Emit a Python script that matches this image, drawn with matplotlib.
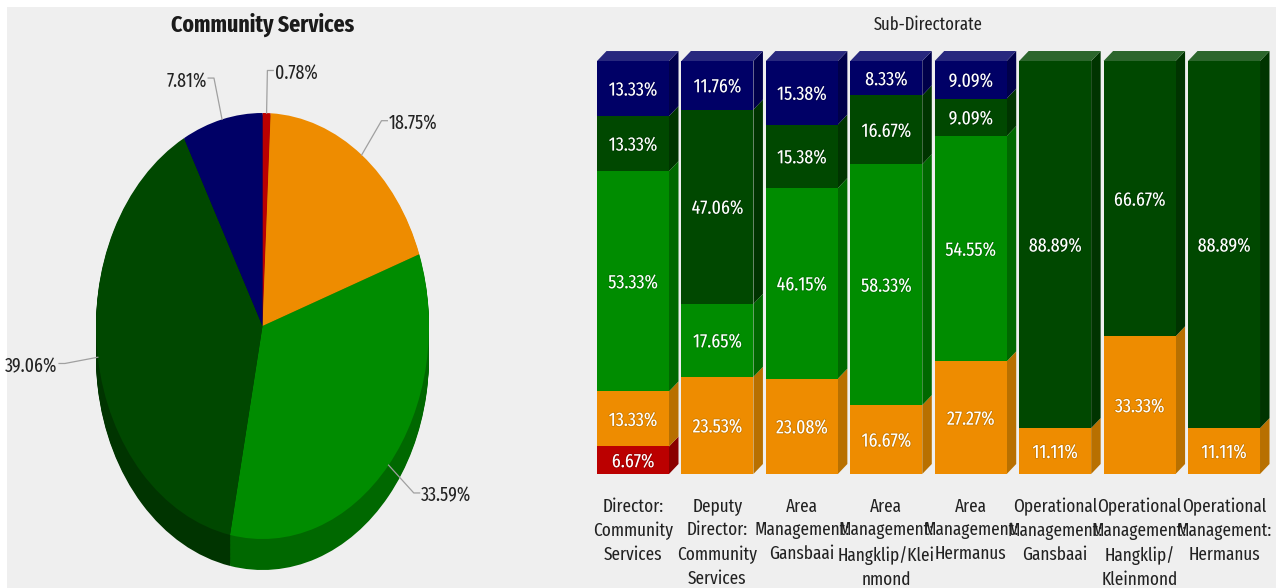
import numpy as np
import matplotlib
matplotlib.use("Agg")
import matplotlib.pyplot as plt
import matplotlib.patheffects as pe
from matplotlib import font_manager as fm

pie_title = "Community Services"
pie_values = [0.78, 18.75, 33.59, 39.06, 7.81]
pie_labels = ["0.78%", "18.75%", "33.59%", "39.06%", "7.81%"]

bar_title = "Sub-Directorate"
categories = ["Director:\nCommunity\nServices", "Deputy\nDirector:\nCommunity\nServices",
              "Area\nManagement:\nGansbaai", "Area\nManagement:\nHangklip/Klei\nnmond",
              "Area\nManagement:\nHermanus", "Operational\nManagement:\nGansbaai",
              "Operational\nManagement:\nHangklip/\nKleinmond", "Operational\nManagement:\nHermanus"]
red = [6.67, 0, 0, 0, 0, 0, 0, 0]
orange = [13.33, 23.53, 23.08, 16.67, 27.27, 11.11, 33.33, 11.11]
green = [53.33, 17.65, 46.15, 58.33, 54.55, 0, 0, 0]
dark_green = [13.33, 47.06, 15.38, 16.67, 9.09, 88.89, 66.67, 88.89]
navy = [13.33, 11.76, 15.38, 8.33, 9.09, 0, 0, 0]

FRONT = {"red": "#bb0000", "orange": "#ee8c00", "green": "#008c00", "dark": "#004800", "navy": "#000066"}
SIDE = {"red": "#8a0000", "orange": "#b87000", "green": "#006800", "dark": "#003400", "navy": "#00004a"}
TOP = {"red": "#c83030", "orange": "#f0a030", "green": "#309c30", "dark": "#2c662c", "navy": "#28287e"}
BG = "#efefef"

names = {f.name for f in fm.fontManager.ttflist}
FONT = [n for n in ["Fira Sans Extra Condensed", "Fira Sans Condensed", "Liberation Sans"] if n in names][:1]
plt.rcParams["font.family"] = FONT + ["DejaVu Sans"]

W, H = 1276, 588
fig = plt.figure(figsize=(W / 100, H / 100), dpi=100, facecolor="white")


def px_axes(left, top, right, bottom, **kw):
    return fig.add_axes([left / W, 1 - bottom / H, (right - left) / W, (bottom - top) / H], **kw)


bg = px_axes(7, 7, 1276, 588)
bg.set_facecolor(BG)
bg.set_xticks([])
bg.set_yticks([])
for s in bg.spines.values():
    s.set_visible(False)

# ---- pie: an ellipse with a lower wall made from a shifted, darker pie
CX, CY, RX, RY, DEPTH = 262.5, 326, 166.5, 213, 31
ax = px_axes(CX - RX * 1.3, CY - RY * 1.3, CX + RX * 1.3, CY + RY * 1.3)
ax.set_facecolor("none")
ax.axis("off")
keys = ["red", "orange", "green", "dark", "navy"]
d = DEPTH / RY
for i in range(24, 0, -1):
    ax.pie(pie_values, colors=[SIDE[k] for k in keys], startangle=90, counterclock=False,
           center=(0, -d * i / 24), radius=1, frame=False)
ax.pie(pie_values, colors=[FRONT[k] for k in keys], startangle=90, counterclock=False,
       center=(0, 0), radius=1, frame=False)
ax.set_aspect("auto")
ax.set_xlim(-1.3, 1.3)
ax.set_ylim(-1.3, 1.3)
cum = np.cumsum([0] + pie_values)
total = sum(pie_values)
for i, lab in enumerate(pie_labels):
    a = 2 * np.pi * (cum[i] + pie_values[i] / 2) / total
    sx, cy = np.sin(a), np.cos(a)
    xs = [sx, 1.2 * sx, 1.2 * sx + (0.035 if sx > 0 else -0.035)]
    ys = [cy, 1.2 * cy, 1.2 * cy]
    ax.plot(xs, ys, color="#a0a0a0", lw=0.9, clip_on=False, zorder=5)
    ax.text(xs[-1] + (0.008 if sx > 0 else -0.008), ys[-1] - 0.012, lab, ha="left" if sx > 0 else "right",
            va="center", fontsize=14, color="#222222", clip_on=False, zorder=6)
fig.text(CX / W, 1 - 25 / H, pie_title, ha="center", va="center", fontsize=17, fontweight="bold", color="#1a1a1a")

# ---- stacked bars with a drawn 3D side and top
STEP = 84.43
L0 = 633
bx = px_axes(L0 - STEP / 2, 61, L0 + 7.5 * STEP, 474)
bx.set_facecolor("none")
n = len(categories)
x = np.arange(n)
bw = 72 / STEP
ox, oy = 9.5 / STEP, 10 / 413 * 100
series = [("red", red), ("orange", orange), ("green", green), ("dark", dark_green), ("navy", navy)]
bottom = np.zeros(n)
for key, vals in series:
    vals = np.array(vals, float)
    bx.bar(x, vals, bw, bottom=bottom, color=FRONT[key], linewidth=0, zorder=3)
    for i in range(n):
        if vals[i] <= 0:
            continue
        r = x[i] + bw / 2
        b, t = bottom[i], bottom[i] + vals[i]
        bx.fill([r, r + ox, r + ox, r], [b, b + oy, t + oy, t], color=SIDE[key], lw=0, clip_on=False, zorder=2)
        bx.text(x[i], b + vals[i] / 2 - 0.3, f"{vals[i]:.2f}%", ha="center", va="center", fontsize=14,
                color="white", zorder=4,
                path_effects=[pe.withStroke(linewidth=1.2, foreground=SIDE[key], alpha=0.6)])
        if abs(t - 100) < 0.02:
            l = x[i] - bw / 2
            bx.fill([l, r, r + ox, l + ox], [t, t, t + oy, t + oy], color=TOP[key], lw=0, clip_on=False, zorder=2)
    bottom += vals
bx.set_xlim(-0.5, n - 0.5)
bx.set_ylim(0, 100)
bx.set_yticks([])
bx.set_xticks(x)
bx.set_xticklabels(categories, fontsize=13.5, color="#222222", linespacing=1.42)
bx.tick_params(axis="x", length=0, pad=17)
for s in bx.spines.values():
    s.set_visible(False)
fig.text(928 / W, 1 - 25 / H, bar_title, ha="center", va="center", fontsize=13, color="#222222")

fig.savefig("out.png", dpi=100, facecolor="white")
